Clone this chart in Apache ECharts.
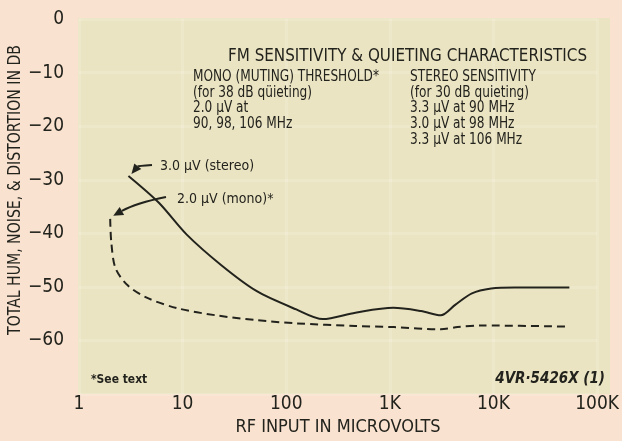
<!DOCTYPE html>
<html>
<head>
<meta charset="utf-8">
<script src="https://cdn.jsdelivr.net/npm/echarts@6/dist/echarts.min.js"></script>
<style>
  html, body { margin: 0; padding: 0; background: #f9e2cf; }
  #chart { width: 622px; height: 441px; }
</style>
</head>
<body>
<div id="chart"></div>
<script>
// RF input levels (microvolts) and matching total hum/noise/distortion (dB)
const stereoRF = [3.0, 5.9, 10.9, 23.8, 52, 125, 225, 465, 1080, 2000, 3100, 4300, 6200, 9500, 16000, 54000];
const stereoDB = [-29.3, -34.3, -40.2, -46.0, -50.8, -54.2, -56.0, -54.8, -53.9, -54.5, -55.3, -53.3, -51.2, -50.3, -50.1, -50.1];

const monoRF = [2.0, 2.05, 2.25, 2.95, 4.5, 9.0, 21, 52, 125, 465, 1100, 3100, 4500, 7600, 54000];
const monoDB = [-37.3, -41.7, -46.5, -49.7, -52.0, -54.0, -55.3, -56.2, -56.8, -57.3, -57.5, -57.9, -57.5, -57.2, -57.4];

// Decade tick labels for the RF axis
const xTickValues = [1, 10, 100, 1000, 10000, 100000];
const xTickLabels = ['1', '10', '100', '1K', '10K', '100K'];

const FONT = '"Liberation Sans Narrow", "DejaVu Sans Condensed", "Roboto Condensed", sans-serif';
const INK = '#23231d';

const chart = echarts.init(document.getElementById('chart'), null, { renderer: 'canvas' });

const pair = (xs, ys) => xs.map((x, i) => [x, ys[i]]);

const option = {
  backgroundColor: '#f9e2cf',
  animation: false,
  grid: { left: 79, right: 15, top: 19, bottom: 29, show: false },
  xAxis: {
    type: 'log',
    logBase: 10,
    min: 1,
    max: 100000,
    name: 'RF INPUT IN MICROVOLTS',
    nameLocation: 'middle',
    nameGap: 12,
    nameTextStyle: { fontFamily: FONT, fontSize: 18, color: INK },
    axisLine: { show: false },
    axisTick: { show: false },
    minorTick: { show: false },
    splitLine: { show: true, lineStyle: { color: 'rgba(255,255,250,0.16)', width: 3 } },
    axisLabel: {
      margin: 0,
      fontFamily: FONT,
      fontSize: 19,
      color: INK,
      formatter: v => {
        const i = xTickValues.findIndex(t => Math.abs(Math.log10(t) - Math.log10(v)) < 1e-6);
        return i >= 0 ? xTickLabels[i] : '';
      }
    }
  },
  yAxis: {
    type: 'value',
    min: -70,
    max: 0,
    interval: 10,
    axisLine: { show: false },
    axisTick: { show: false },
    splitLine: { show: true, lineStyle: { color: 'rgba(255,255,250,0.16)', width: 3 } },
    axisLabel: {
      margin: 15,
      fontFamily: FONT,
      fontSize: 19,
      color: INK,
      formatter: v => (v === 0 ? '0' : (v <= -70 ? '' : '\u2212' + Math.abs(v)))
    }
  },
  series: [
    {
      name: 'stereo',
      type: 'line',
      data: pair(stereoRF, stereoDB),
      smooth: 0.3,
      symbol: 'none',
      lineStyle: { color: INK, width: 2 },
      z: 5
    },
    {
      name: 'mono',
      type: 'line',
      data: pair(monoRF, monoDB),
      smooth: 0.3,
      symbol: 'none',
      lineStyle: { color: INK, width: 2, type: [8, 5] },
      z: 5
    }
  ]
};

chart.setOption(option);

// Panel, labels and pointer arrows placed relative to the grid
const gridRect = chart.getModel().getComponent('grid', 0).coordinateSystem.getRect();
const px = p => chart.convertToPixel({ gridIndex: 0 }, p);

function arrow(tail, ctrl, head) {
  const ang = Math.atan2(head[1] - ctrl[1], head[0] - ctrl[0]);
  const L = 10, W = 4.5;
  const bx = head[0] - L * Math.cos(ang), by = head[1] - L * Math.sin(ang);
  const nx = -Math.sin(ang), ny = Math.cos(ang);
  return [
    {
      type: 'bezierCurve',
      shape: { x1: tail[0], y1: tail[1], cpx1: ctrl[0], cpy1: ctrl[1], x2: bx, y2: by },
      style: { stroke: INK, lineWidth: 2, fill: null },
      z: 10
    },
    {
      type: 'polygon',
      shape: { points: [head, [bx + nx * W, by + ny * W], [bx - nx * W, by - ny * W]] },
      style: { fill: INK },
      z: 10
    }
  ];
}

const stereoStart = px([stereoRF[0], stereoDB[0]]);
const monoStart = px([monoRF[0], monoDB[0]]);

const textBase = { fontFamily: FONT, fill: INK };

const graphics = [
  {
    type: 'rect',
    shape: { x: gridRect.x - 1, y: gridRect.y - 1, width: 610 - gridRect.x + 1, height: 395 - gridRect.y },
    style: { fill: '#ebe4c3' },
    z: -10,
    silent: true
  },
  {
    type: 'text',
    x: 15, y: 190,
    rotation: Math.PI / 2,
    scaleX: 0.87,
    style: Object.assign({}, textBase, {
      text: 'TOTAL HUM, NOISE, & DISTORTION IN DB',
      fontSize: 18, align: 'center', verticalAlign: 'middle'
    }),
    z: 10
  },
  {
    type: 'text', x: 228, y: 56,
    scaleX: 0.937,
    style: Object.assign({}, textBase, {
      text: 'FM SENSITIVITY & QUIETING CHARACTERISTICS',
      fontSize: 18, verticalAlign: 'middle'
    }),
    z: 10
  },
  {
    type: 'text', x: 193, y: 69,
    scaleX: 0.9,
    style: Object.assign({}, textBase, {
      text: 'MONO (MUTING) THRESHOLD*\n(for 38 dB qüieting)\n2.0 \u00b5V at\n90, 98, 106 MHz',
      fontSize: 15, lineHeight: 15.8, verticalAlign: 'top'
    }),
    z: 10
  },
  {
    type: 'text', x: 410, y: 69,
    scaleX: 0.9,
    style: Object.assign({}, textBase, {
      text: 'STEREO SENSITIVITY\n(for 30 dB quieting)\n3.3 \u00b5V at 90 MHz\n3.0 \u00b5V at 98 MHz\n3.3 \u00b5V at 106 MHz',
      fontSize: 15, lineHeight: 15.8, verticalAlign: 'top'
    }),
    z: 10
  },
  {
    type: 'text', x: 160, y: 166,
    style: Object.assign({}, textBase, { text: '3.0 \u00b5V (stereo)', fontSize: 14, verticalAlign: 'middle' }),
    z: 10
  },
  {
    type: 'text', x: 177, y: 199,
    style: Object.assign({}, textBase, { text: '2.0 \u00b5V (mono)*', fontSize: 14, verticalAlign: 'middle' }),
    z: 10
  },
  {
    type: 'text', x: 91, y: 380,
    scaleX: 0.92,
    style: Object.assign({}, textBase, { text: '*See text', fontSize: 13, fontWeight: 'bold', verticalAlign: 'middle' }),
    z: 10
  },
  {
    type: 'text', x: 605, y: 379,
    style: Object.assign({}, textBase, {
      text: '4VR\u00b75426X (1)', fontSize: 15, fontWeight: 'bold', fontStyle: 'italic',
      align: 'right', verticalAlign: 'middle'
    }),
    z: 10
  }
];

graphics.push(...arrow([152, 165], [138, 166], [stereoStart[0] + 3, stereoStart[1] - 2]));
graphics.push(...arrow([166, 197], [136, 203], [monoStart[0] + 3, monoStart[1] - 3]));

chart.setOption({ graphic: graphics });
</script>
</body>
</html>
